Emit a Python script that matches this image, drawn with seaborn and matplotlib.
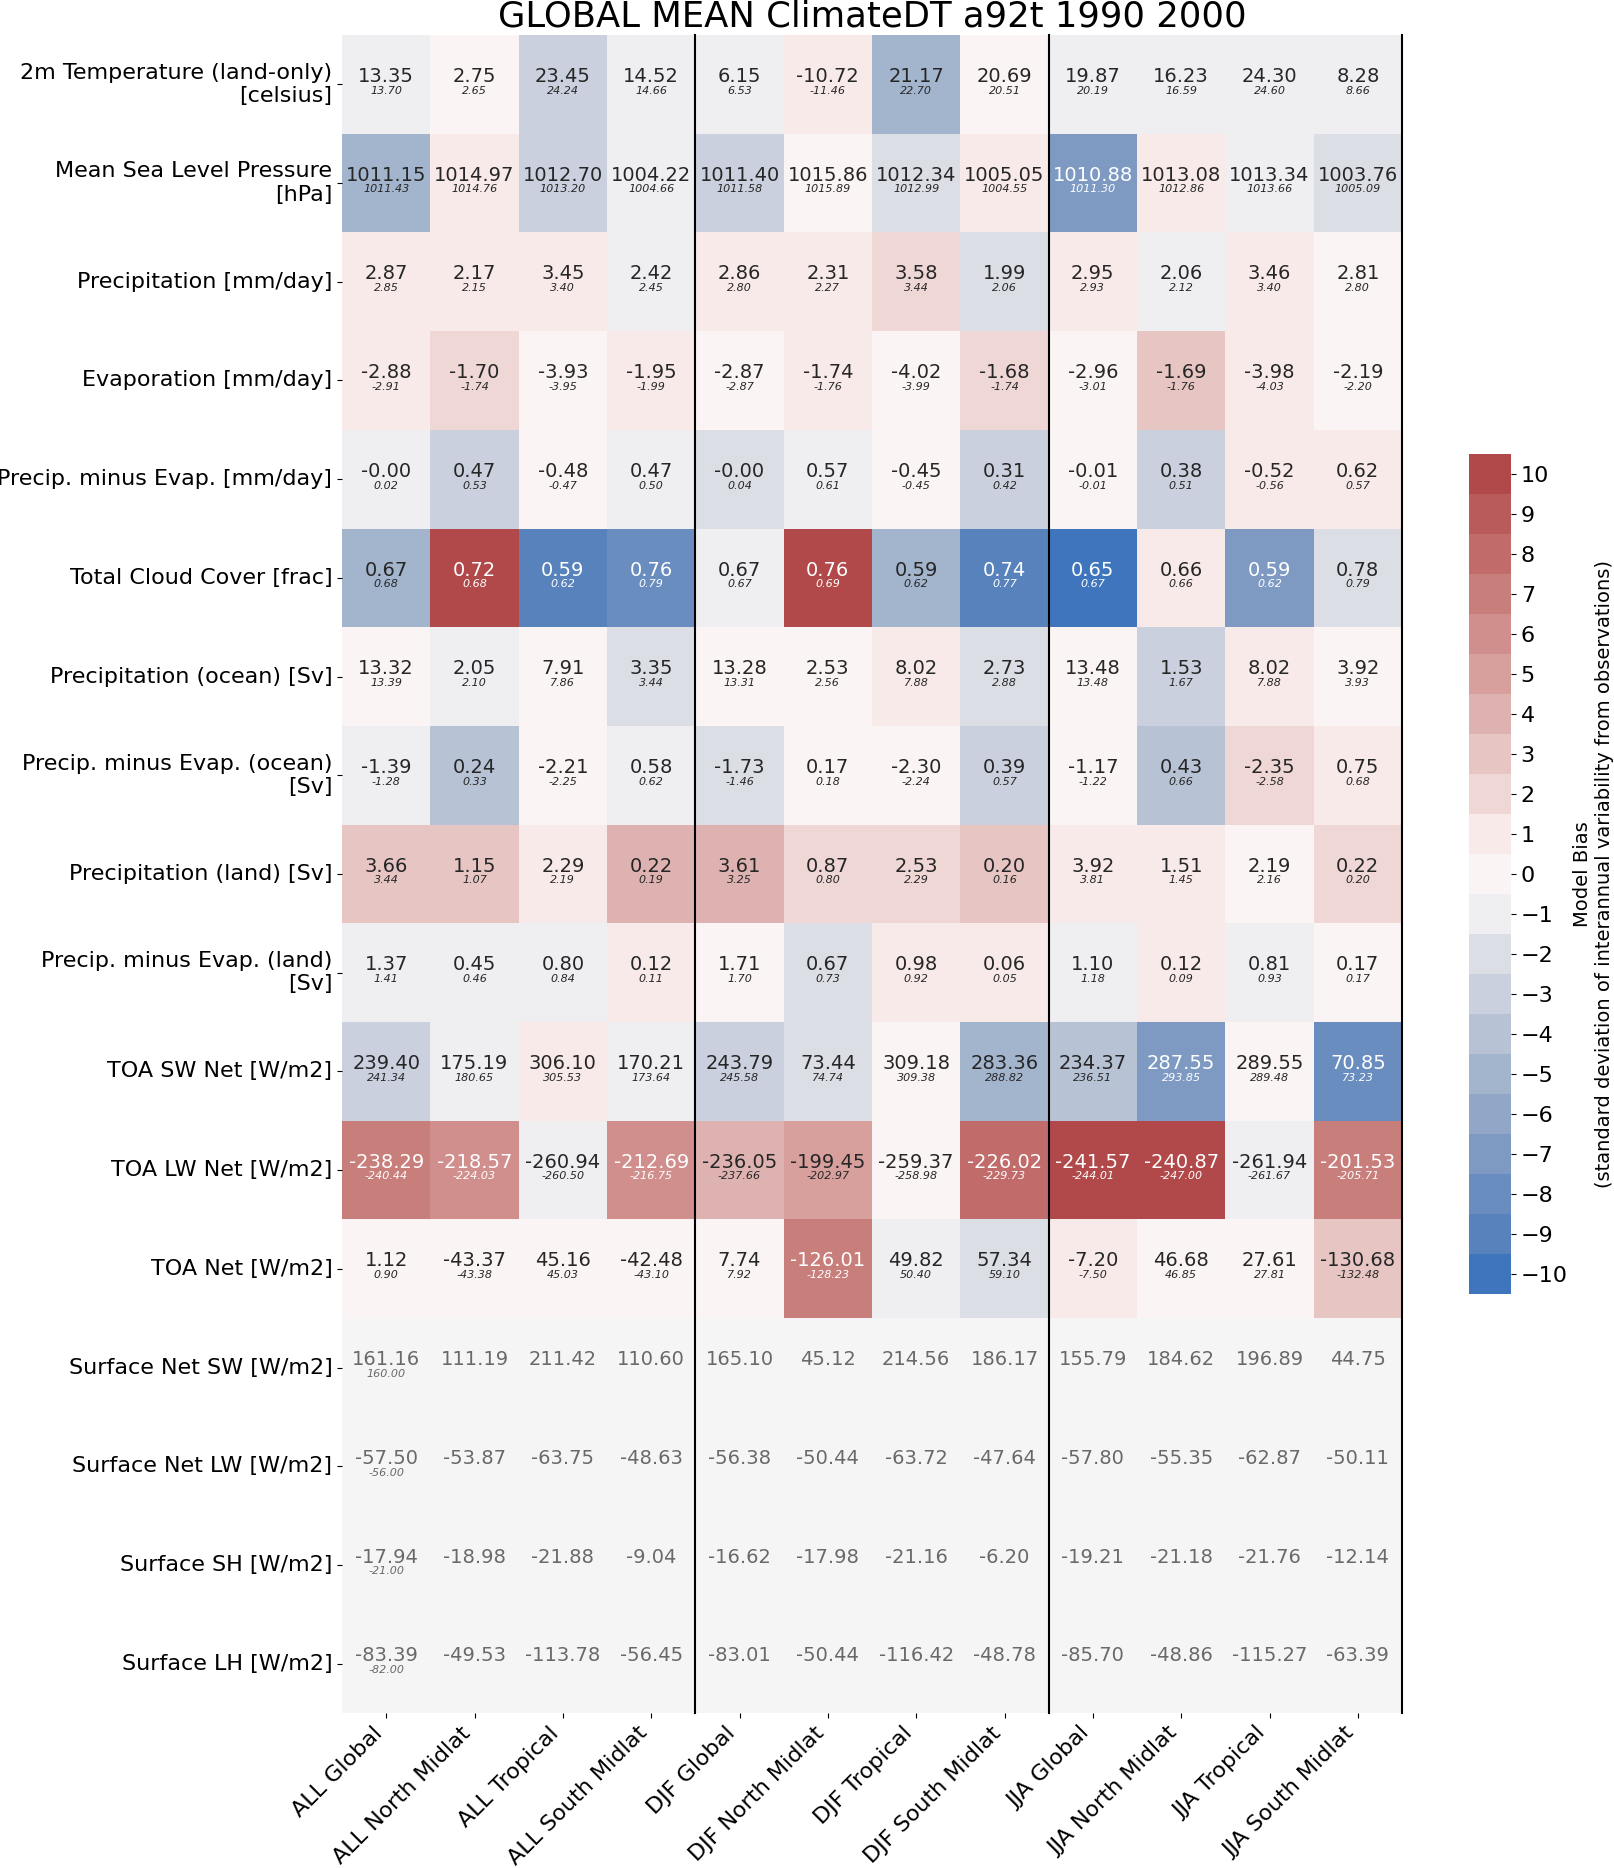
import numpy as np
import pandas as pd
import matplotlib
matplotlib.use("Agg")
import matplotlib.pyplot as plt
import seaborn as sns
from matplotlib.colors import ListedColormap
from seaborn.utils import relative_luminance

nan = np.nan

variables = [
    "2m Temperature (land-only)\n[celsius]",
    "Mean Sea Level Pressure\n[hPa]",
    "Precipitation [mm/day]",
    "Evaporation [mm/day]",
    "Precip. minus Evap. [mm/day]",
    "Total Cloud Cover [frac]",
    "Precipitation (ocean) [Sv]",
    "Precip. minus Evap. (ocean)\n[Sv]",
    "Precipitation (land) [Sv]",
    "Precip. minus Evap. (land)\n[Sv]",
    "TOA SW Net [W/m2]",
    "TOA LW Net [W/m2]",
    "TOA Net [W/m2]",
    "Surface Net SW [W/m2]",
    "Surface Net LW [W/m2]",
    "Surface SH [W/m2]",
    "Surface LH [W/m2]",
]

regions = [
    "ALL Global", "ALL North Midlat", "ALL Tropical", "ALL South Midlat",
    "DJF Global", "DJF North Midlat", "DJF Tropical", "DJF South Midlat",
    "JJA Global", "JJA North Midlat", "JJA Tropical", "JJA South Midlat",
]

model_values = [
    [13.35, 2.75, 23.45, 14.52, 6.15, -10.72, 21.17, 20.69, 19.87, 16.23, 24.30, 8.28],
    [1011.15, 1014.97, 1012.70, 1004.22, 1011.40, 1015.86, 1012.34, 1005.05, 1010.88, 1013.08, 1013.34, 1003.76],
    [2.87, 2.17, 3.45, 2.42, 2.86, 2.31, 3.58, 1.99, 2.95, 2.06, 3.46, 2.81],
    [-2.88, -1.70, -3.93, -1.95, -2.87, -1.74, -4.02, -1.68, -2.96, -1.69, -3.98, -2.19],
    [-0.002, 0.47, -0.48, 0.47, -0.002, 0.57, -0.45, 0.31, -0.01, 0.38, -0.52, 0.62],
    [0.67, 0.72, 0.59, 0.76, 0.67, 0.76, 0.59, 0.74, 0.65, 0.66, 0.59, 0.78],
    [13.32, 2.05, 7.91, 3.35, 13.28, 2.53, 8.02, 2.73, 13.48, 1.53, 8.02, 3.92],
    [-1.39, 0.24, -2.21, 0.58, -1.73, 0.17, -2.30, 0.39, -1.17, 0.43, -2.35, 0.75],
    [3.66, 1.15, 2.29, 0.22, 3.61, 0.87, 2.53, 0.20, 3.92, 1.51, 2.19, 0.22],
    [1.37, 0.45, 0.80, 0.12, 1.71, 0.67, 0.98, 0.06, 1.10, 0.12, 0.81, 0.17],
    [239.40, 175.19, 306.10, 170.21, 243.79, 73.44, 309.18, 283.36, 234.37, 287.55, 289.55, 70.85],
    [-238.29, -218.57, -260.94, -212.69, -236.05, -199.45, -259.37, -226.02, -241.57, -240.87, -261.94, -201.53],
    [1.12, -43.37, 45.16, -42.48, 7.74, -126.01, 49.82, 57.34, -7.20, 46.68, 27.61, -130.68],
    [161.16, 111.19, 211.42, 110.60, 165.10, 45.12, 214.56, 186.17, 155.79, 184.62, 196.89, 44.75],
    [-57.50, -53.87, -63.75, -48.63, -56.38, -50.44, -63.72, -47.64, -57.80, -55.35, -62.87, -50.11],
    [-17.94, -18.98, -21.88, -9.04, -16.62, -17.98, -21.16, -6.20, -19.21, -21.18, -21.76, -12.14],
    [-83.39, -49.53, -113.78, -56.45, -83.01, -50.44, -116.42, -48.78, -85.70, -48.86, -115.27, -63.39],
]

obs_values = [
    [13.70, 2.65, 24.24, 14.66, 6.53, -11.46, 22.70, 20.51, 20.19, 16.59, 24.60, 8.66],
    [1011.43, 1014.76, 1013.20, 1004.66, 1011.58, 1015.89, 1012.99, 1004.55, 1011.30, 1012.86, 1013.66, 1005.09],
    [2.85, 2.15, 3.40, 2.45, 2.80, 2.27, 3.44, 2.06, 2.93, 2.12, 3.40, 2.80],
    [-2.91, -1.74, -3.95, -1.99, -2.87, -1.76, -3.99, -1.74, -3.01, -1.76, -4.03, -2.20],
    [0.02, 0.53, -0.47, 0.50, 0.04, 0.61, -0.45, 0.42, -0.01, 0.51, -0.56, 0.57],
    [0.68, 0.68, 0.62, 0.79, 0.67, 0.69, 0.62, 0.77, 0.67, 0.66, 0.62, 0.79],
    [13.39, 2.10, 7.86, 3.44, 13.31, 2.56, 7.88, 2.88, 13.48, 1.67, 7.88, 3.93],
    [-1.28, 0.33, -2.25, 0.62, -1.46, 0.18, -2.24, 0.57, -1.22, 0.66, -2.58, 0.68],
    [3.44, 1.07, 2.19, 0.19, 3.25, 0.80, 2.29, 0.16, 3.81, 1.45, 2.16, 0.20],
    [1.41, 0.46, 0.84, 0.11, 1.70, 0.73, 0.92, 0.05, 1.18, 0.09, 0.93, 0.17],
    [241.34, 180.65, 305.53, 173.64, 245.58, 74.74, 309.38, 288.82, 236.51, 293.85, 289.48, 73.23],
    [-240.44, -224.03, -260.50, -216.75, -237.66, -202.97, -258.98, -229.73, -244.01, -247.00, -261.67, -205.71],
    [0.90, -43.38, 45.03, -43.10, 7.92, -128.23, 50.40, 59.10, -7.50, 46.85, 27.81, -132.48],
    [160.00, nan, nan, nan, nan, nan, nan, nan, nan, nan, nan, nan],
    [-56.00, nan, nan, nan, nan, nan, nan, nan, nan, nan, nan, nan],
    [-21.00, nan, nan, nan, nan, nan, nan, nan, nan, nan, nan, nan],
    [-82.00, nan, nan, nan, nan, nan, nan, nan, nan, nan, nan, nan],
]

bias_sigma = [
    [-1, 0, -3, -1, -1, 1, -5, 0, -1, -1, -1, -1],
    [-5, 1, -3, -1, -3, 0, -2, 1, -7, 1, -1, -2],
    [1, 1, 1, -1, 1, 1, 2, -2, 1, -1, 1, 0],
    [1, 2, 0, 1, 0, 1, 0, 2, 0, 3, 1, 0],
    [-1, -3, 0, -1, -2, -1, 0, -3, 0, -3, 1, 1],
    [-5, 10, -9, -8, -1, 10, -5, -9, -10, 1, -7, -2],
    [0, -1, 0, -2, 0, 0, 1, -2, 0, -3, 1, 0],
    [-1, -4, 0, -1, -2, 0, 0, -3, 0, -4, 2, 1],
    [3, 3, 1, 4, 4, 2, 2, 3, 1, 1, 0, 2],
    [-1, -1, -1, 1, 0, -2, 1, 1, -1, 1, -1, 0],
    [-3, -1, 1, -1, -3, -2, 0, -5, -4, -7, 0, -8],
    [7, 6, -1, 6, 4, 5, 0, 8, 10, 10, -1, 7],
    [0, 0, 0, 0, 0, 7, -1, -2, 1, 0, 0, 3],
    [nan] * 12,
    [nan] * 12,
    [nan] * 12,
    [nan] * 12,
]

df_bias = pd.DataFrame(bias_sigma, index=variables, columns=regions)
df_model = pd.DataFrame(model_values, index=variables, columns=regions)
df_obs = pd.DataFrame(obs_values, index=variables, columns=regions)

W, H = 1614, 1868
fig = plt.figure(figsize=(W / 100, H / 100), dpi=100)
ax = fig.add_axes([342 / W, 1 - 1713 / H, 1060 / W, 1678 / H])
cax = fig.add_axes([1469 / W, 1 - 1294 / H, 42 / W, 840 / H])
ax.set_facecolor("whitesmoke")

palette = sns.color_palette("vlag", 21)
cmap = ListedColormap(palette)
vmin, vmax = -10.5, 10.5

sns.heatmap(df_bias, ax=ax, cbar_ax=cax, cmap=cmap, vmin=vmin, vmax=vmax,
            xticklabels=True, yticklabels=True,
            cbar_kws={"ticks": list(range(-10, 11))})

cb = ax.collections[0].colorbar
cb.set_label("Model Bias\n(standard deviation of interannual variability from observations)",
             fontsize=14)
cb.ax.tick_params(labelsize=16)
cb.outline.set_visible(False)

nrows, ncols = df_model.shape
for i in range(nrows):
    for j in range(ncols):
        m = df_model.iat[i, j]
        o = df_obs.iat[i, j]
        b = df_bias.iat[i, j]
        if np.isnan(b):
            col = "dimgray"
        else:
            rgba = cmap((b - vmin) / (vmax - vmin))
            col = ".15" if relative_luminance(rgba) > .408 else "w"
        if not np.isnan(m):
            ax.text(j + 0.5, i + 0.476, f"{m:.2f}", ha="center", va="baseline",
                    fontsize=14, color=col)
        if not np.isnan(o):
            ax.text(j + 0.5, i + 0.595, f"{o:.2f}", ha="center", va="baseline",
                    fontsize=8, color=col, fontstyle="italic")

for x in (4, 8, 12):
    ax.axvline(x, color="black", linewidth=1.5, clip_on=False)

ax.set_yticklabels(variables, rotation=0, fontsize=16)
ax.set_xticklabels(regions, rotation=45, ha="right", fontsize=16)
ax.set_xlabel("")
ax.set_ylabel("")
ax.set_title("GLOBAL MEAN ClimateDT a92t 1990 2000", fontsize=25.5)

fig.savefig("out.png", dpi=100)
